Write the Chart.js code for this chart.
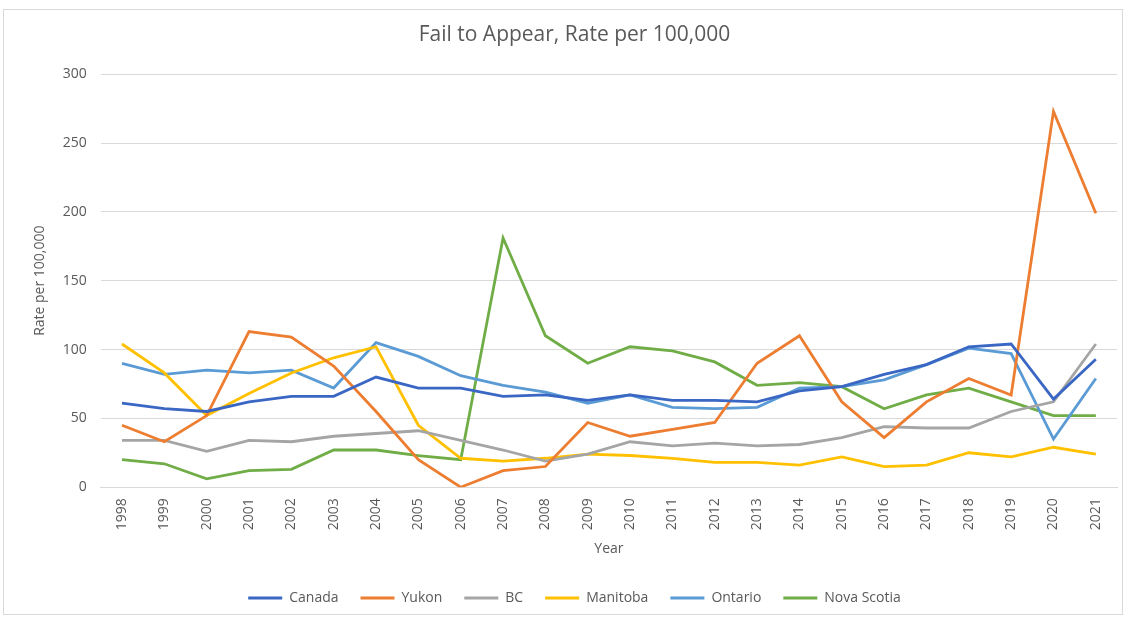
<!DOCTYPE html>
<html>
<head>
<meta charset="utf-8">
<script src="https://cdn.jsdelivr.net/npm/chart.js@4"></script>
<style>
  body { margin: 0; background: #fff; }
  #frame { position: absolute; left: 3px; top: 9px; width: 1120px; height: 606px; border: 1px solid #d9d9d9; box-sizing: border-box; }
  #wrap { position: absolute; left: 0; top: 0; width: 1127px; height: 619px; }
</style>
</head>
<body>
<div id="frame"></div>
<div id="wrap"><canvas id="faChart" width="1127" height="619"></canvas></div>
<script>
const years = ["1998","1999","2000","2001","2002","2003","2004","2005","2006","2007","2008","2009",
    "2010","2011","2012","2013","2014","2015","2016","2017","2018","2019","2020","2021"];

const canada     = [61, 57, 55, 62, 66, 66, 80, 72, 72, 66, 67, 63, 67, 63, 63, 62, 70, 73, 82, 89, 102, 104, 64, 93];
const yukon      = [45, 33, 52, 113, 109, 88, 55, 20, 0, 12, 15, 47, 37, 42, 47, 90, 110, 62, 36, 62, 79, 67, 273, 199];
const bc         = [34, 34, 26, 34, 33, 37, 39, 41, 34, 27, 19, 24, 33, 30, 32, 30, 31, 36, 44, 43, 43, 55, 62, 104];
const manitoba   = [104, 83, 52, 68, 83, 94, 102, 45, 21, 19, 21, 24, 23, 21, 18, 18, 16, 22, 15, 16, 25, 22, 29, 24];
const ontario    = [90, 82, 85, 83, 85, 72, 105, 95, 81, 74, 69, 61, 67, 58, 57, 58, 72, 73, 78, 89, 101, 97, 35, 79];
const novaScotia = [20, 17, 6, 12, 13, 27, 27, 23, 20, 181, 110, 90, 102, 99, 91, 74, 76, 73, 57, 67, 72, 62, 52, 52];

const yTicks = [0, 50, 100, 150, 200, 250, 300];

const font = "'Open Sans', sans-serif";
const textColor = '#595959';

function series(label, data, color) {
    return {
        label: label,
        data: data,
        borderColor: color,
        backgroundColor: color,
        borderWidth: 2.8,
        pointRadius: 0,
        pointHoverRadius: 0,
        tension: 0,
        fill: false
    };
}

const ctx = document.getElementById('faChart').getContext('2d');
new Chart(ctx, {
    type: 'line',
    data: {
        labels: years,
        datasets: [
            series('Canada', canada, '#3A66C4'),
            series('Yukon', yukon, '#ED7D31'),
            series('BC', bc, '#A5A5A5'),
            series('Manitoba', manitoba, '#FFC000'),
            series('Ontario', ontario, '#5B9BD5'),
            series('Nova Scotia', novaScotia, '#70AD47')
        ]
    },
    options: {
        responsive: false,
        animation: false,
        layout: {
            padding: { left: 32, right: 10, top: 22, bottom: 4 }
        },
        plugins: {
            title: {
                display: true,
                text: 'Fail to Appear, Rate per 100,000',
                color: textColor,
                font: { family: font, size: 21, weight: 'normal' },
                padding: { top: 0, bottom: 27 }
            },
            legend: {
                position: 'bottom',
                labels: {
                    color: textColor,
                    usePointStyle: true,
                    pointStyle: 'line',
                    pointStyleWidth: 34,
                    padding: 22,
                    font: { family: font, size: 14 }
                }
            },
            tooltip: { enabled: false }
        },
        scales: {
            x: {
                offset: true,
                grid: { display: false },
                border: { color: '#d9d9d9' },
                ticks: {
                    color: textColor,
                    maxRotation: 90,
                    minRotation: 90,
                    font: { family: font, size: 14 }
                },
                title: {
                    display: true,
                    text: 'Year',
                    color: textColor,
                    font: { family: font, size: 14 },
                    padding: { top: 7, bottom: 12 }
                }
            },
            y: {
                min: 0,
                max: 300,
                afterBuildTicks: axis => { axis.ticks = yTicks.map(v => ({ value: v })); },
                grid: { color: '#d9d9d9', drawTicks: false },
                border: { display: false },
                ticks: {
                    color: textColor,
                    padding: 14,
                    font: { family: font, size: 14 }
                },
                title: {
                    display: true,
                    text: 'Rate per 100,000',
                    color: textColor,
                    font: { family: font, size: 14 },
                    padding: { top: 0, bottom: 0 }
                }
            }
        }
    }
});
</script>
</body>
</html>
